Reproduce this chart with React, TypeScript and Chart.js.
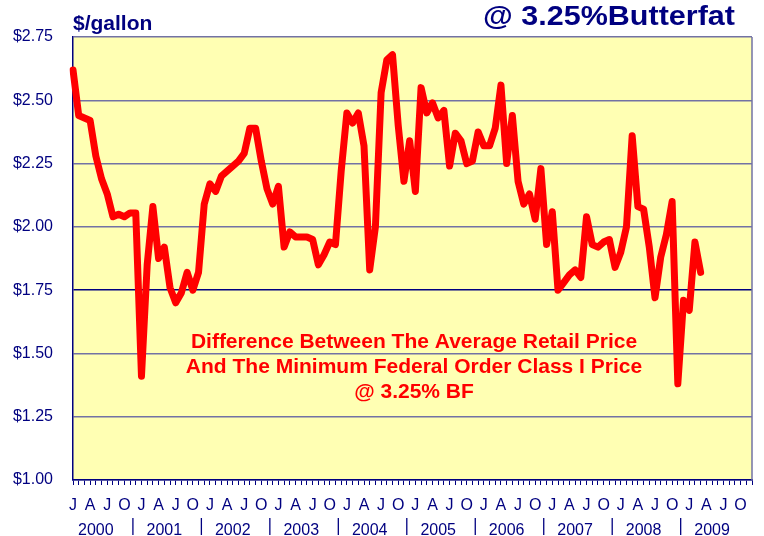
import React, { useEffect, useRef } from 'react';
import { Chart, registerables } from 'chart.js';

Chart.register(...registerables);

// ---------- data ----------
const YEARS = ['2000', '2001', '2002', '2003', '2004', '2005', '2006', '2007', '2008', '2009'];
const MONTH_CODES = ['Jan', 'Feb', 'Mar', 'Apr', 'May', 'Jun', 'Jul', 'Aug', 'Sep', 'Oct', 'Nov', 'Dec'];
const QUARTER_LETTERS = ['J', 'A', 'J', 'O'];

const SPREAD_2000 = [2.62, 2.44, 2.43, 2.42, 2.28, 2.19, 2.13, 2.04, 2.05, 2.04, 2.055, 2.055];
const SPREAD_2001 = [1.41, 1.85, 2.08, 1.875, 1.92, 1.76, 1.7, 1.74, 1.82, 1.75, 1.82, 2.09];
const SPREAD_2002 = [2.17, 2.14, 2.2, 2.22, 2.24, 2.26, 2.29, 2.39, 2.39, 2.26, 2.15, 2.09];
const SPREAD_2003 = [2.16, 1.92, 1.98, 1.96, 1.96, 1.96, 1.95, 1.85, 1.89, 1.94, 1.93, 2.22];
const SPREAD_2004 = [2.45, 2.41, 2.45, 2.32, 1.83, 2.0, 2.53, 2.66, 2.68, 2.4, 2.18, 2.34];
const SPREAD_2005 = [2.14, 2.55, 2.45, 2.49, 2.43, 2.46, 2.24, 2.37, 2.34, 2.25, 2.26, 2.375];
const SPREAD_2006 = [2.32, 2.32, 2.39, 2.56, 2.25, 2.44, 2.18, 2.09, 2.13, 2.03, 2.23, 1.93];
const SPREAD_2007 = [2.06, 1.75, 1.78, 1.81, 1.83, 1.8, 2.04, 1.93, 1.92, 1.94, 1.95, 1.84];
const SPREAD_2008 = [1.9, 2.0, 2.36, 2.08, 2.07, 1.92, 1.72, 1.88, 1.97, 2.1, 1.38, 1.71];
const SPREAD_2009 = [1.67, 1.94, 1.82];

const SPREAD = [
  ...SPREAD_2000, ...SPREAD_2001, ...SPREAD_2002, ...SPREAD_2003, ...SPREAD_2004,
  ...SPREAD_2005, ...SPREAD_2006, ...SPREAD_2007, ...SPREAD_2008, ...SPREAD_2009,
];

const Y_MIN = 1.0;
const Y_MAX = 2.75;
const Y_STEP = 0.25;
const DARK_GRID_VALUE = 1.75;

const UNIT_TITLE = '$/gallon';
const MAIN_TITLE = '@ 3.25%Butterfat';
const NOTE_LINES = [
  'Difference Between The Average Retail Price',
  'And The Minimum Federal Order Class I Price',
  '@ 3.25% BF',
];

const MONTH_LABELS = YEARS.flatMap((y) => MONTH_CODES.map((m) => `${m} ${y}`));

// ---------- styles ----------
const FONT = '"Liberation Sans", Arial, Helvetica, sans-serif';
const NAVY = '#000080';
const GRID = '#7272A4';
const PLOT_BG = '#FFFFB3';
const RED = '#FF0000';

const decorPlugin = {
  id: 'decor',
  beforeDraw(chart: any) {
    const { ctx, chartArea } = chart;
    ctx.save();
    ctx.fillStyle = '#FFFFFF';
    ctx.fillRect(0, 0, chart.width, chart.height);
    ctx.fillStyle = PLOT_BG;
    ctx.fillRect(chartArea.left, chartArea.top, chartArea.right - chartArea.left, chartArea.bottom - chartArea.top);
    ctx.restore();
  },
  afterDraw(chart: any) {
    const { ctx, chartArea } = chart;
    const xs = chart.scales.x;
    ctx.save();
    // right border
    ctx.strokeStyle = GRID;
    ctx.lineWidth = 1.5;
    ctx.beginPath();
    ctx.moveTo(chartArea.right, chartArea.top);
    ctx.lineTo(chartArea.right, chartArea.bottom);
    ctx.stroke();

    // unit title
    ctx.fillStyle = NAVY;
    ctx.font = `bold 21px ${FONT}`;
    ctx.textAlign = 'left';
    ctx.textBaseline = 'alphabetic';
    ctx.fillText(UNIT_TITLE, chartArea.left, 29.5);

    // main title (stretched to the reference width)
    ctx.font = `bold 28px ${FONT}`;
    const w = ctx.measureText(MAIN_TITLE).width;
    const target = 252;
    ctx.save();
    ctx.translate(483, 24.5);
    ctx.scale(target / w, 1.0);
    ctx.fillText(MAIN_TITLE, 0, 0);
    ctx.restore();

    // year labels and separators
    ctx.font = `16px ${FONT}`;
    ctx.textAlign = 'center';
    ctx.fillStyle = NAVY;
    YEARS.forEach((yr, k) => {
      const cx = xs.getPixelForValue(4 + 12 * k);
      ctx.fillText(yr, cx, 534.5);
      if (k < YEARS.length - 1) {
        const sx = (xs.getPixelForValue(10 + 12 * k) + xs.getPixelForValue(11 + 12 * k)) / 2;
        ctx.strokeStyle = NAVY;
        ctx.lineWidth = 1.3;
        ctx.beginPath();
        ctx.moveTo(sx, 518);
        ctx.lineTo(sx, 535);
        ctx.stroke();
      }
    });

    // note text
    ctx.fillStyle = RED;
    ctx.font = `bold 21px ${FONT}`;
    ctx.textAlign = 'center';
    const cx = 414;
    NOTE_LINES.forEach((line, i) => {
      ctx.fillText(line, cx, 348 + i * 25);
    });
    ctx.restore();
  },
};

function App() {
  const canvasRef = useRef<HTMLCanvasElement | null>(null);

  useEffect(() => {
    const canvas = canvasRef.current;
    if (!canvas) return;
    const chart = new Chart(canvas, {
      type: 'line',
      data: {
        labels: MONTH_LABELS,
        datasets: [
          {
            data: SPREAD,
            borderColor: RED,
            backgroundColor: RED,
            borderWidth: 7,
            pointRadius: 0,
            tension: 0,
            borderJoinStyle: 'round',
            borderCapStyle: 'round',
            fill: false,
          },
        ],
      },
      options: {
        responsive: false,
        animation: false,
        devicePixelRatio: 1,
        layout: { padding: { top: 37, right: 12, left: 0, bottom: 0 } },
        plugins: {
          legend: { display: false },
          title: { display: false },
          tooltip: { enabled: false },
        },
        scales: {
          x: {
            type: 'category',
            offset: false,
            grid: {
              drawOnChartArea: false,
              drawTicks: true,
              tickLength: 5,
              color: NAVY,
              lineWidth: 1,
            },
            border: { display: true, color: NAVY, width: 1.5 },
            ticks: {
              autoSkip: false,
              maxRotation: 0,
              minRotation: 0,
              padding: 11,
              color: NAVY,
              font: { family: FONT, size: 16 },
              callback: (_v: any, index: number) =>
                index % 3 === 0 ? QUARTER_LETTERS[(index / 3) % 4] : '',
            },
            afterFit: (scale: any) => {
              scale.height = 56;
            },
          },
          y: {
            min: Y_MIN,
            max: Y_MAX,
            grid: {
              drawTicks: false,
              color: (c: any) => (c.tick && Math.abs(c.tick.value - DARK_GRID_VALUE) < 1e-6 ? NAVY : GRID),
              lineWidth: 1.5,
            },
            border: { display: true, color: NAVY, width: 1.5 },
            ticks: {
              stepSize: Y_STEP,
              padding: 20,
              color: NAVY,
              font: { family: FONT, size: 16 },
              callback: (v: any) => '$' + Number(v).toFixed(2),
            },
            afterFit: (scale: any) => {
              scale.width = 73;
            },
          },
        },
      },
      plugins: [decorPlugin],
    });
    return () => chart.destroy();
  }, []);

  return (
    <div style={{ position: 'absolute', left: 0, top: 0, width: 764, height: 536, background: '#fff' }}>
      <canvas ref={canvasRef} width={764} height={536} style={{ width: 764, height: 536, display: 'block' }} />
    </div>
  );
}

export default App;
